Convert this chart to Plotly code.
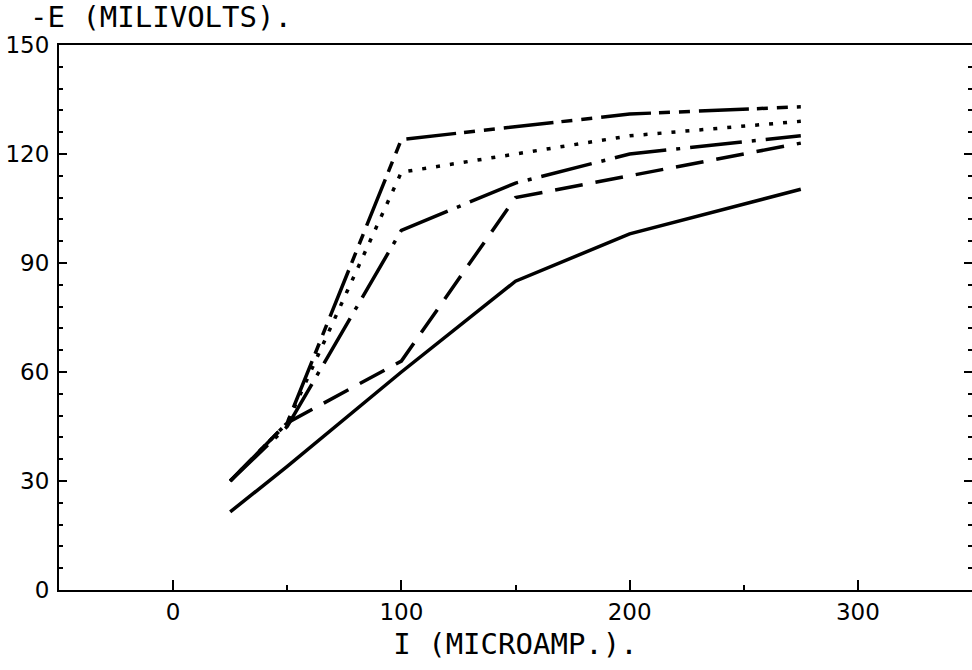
import plotly.graph_objects as go

# Data
current = [25, 50, 100, 150, 200, 275]
series_a = [30, 46, 124, 127.5, 131, 133]      # long-short-short dash (top)
series_b = [30, 46, 115, 120, 125, 129]        # dotted
series_c = [30, 45, 99, 112, 120, 125]         # dash-dot
series_d = [30, 46, 63, 108, 114, 123]         # dashed
series_e = [21.5, 34, 60, 85, 98, 110.3]       # solid

x_ticks = [0, 100, 200, 300]
y_ticks = [0, 30, 60, 90, 120, 150]

styles = [
    (series_a, "50px,8px,11px,9px,11px,9px"),
    (series_b, "4px,10px"),
    (series_c, "52px,10px,4px,10px"),
    (series_d, "28px,13px"),
    (series_e, "solid"),
]

fig = go.Figure()
for ys, dash in styles:
    fig.add_trace(go.Scatter(
        x=current, y=ys, mode="lines",
        line=dict(color="black", width=3.5, dash=dash),
        showlegend=False, hoverinfo="skip",
    ))

# right-side inward ticks (no visible line)
fig.add_trace(go.Scatter(x=[None], y=[None], yaxis="y2", showlegend=False))

tickfont = dict(family="DejaVu Sans", size=23, color="black")
fig.update_layout(
    width=972, height=670,
    margin=dict(l=59, r=0, t=45, b=80),
    paper_bgcolor="white", plot_bgcolor="white",
    xaxis=dict(
        range=[-50, 350], showgrid=False, zeroline=False,
        showline=True, linecolor="black", linewidth=2, mirror=True,
        ticks="inside", tickvals=x_ticks, ticktext=[str(v) for v in x_ticks],
        ticklen=10, tickwidth=2, tickcolor="black",
        minor=dict(tickvals=[50, 150, 250], ticks="inside", ticklen=5, tickwidth=2, tickcolor="black"),
        tickfont=tickfont, ticklabelstandoff=0,
        title=dict(text="I (MICROAMP.).", font=dict(family="DejaVu Sans Mono", size=29, color="black"), standoff=10),
    ),
    yaxis=dict(
        range=[0, 150], showgrid=False, zeroline=False,
        showline=True, linecolor="black", linewidth=2, mirror=False,
        ticks="inside", tickvals=y_ticks, ticktext=[str(v) for v in y_ticks],
        ticklen=8, tickwidth=2, tickcolor="black",
        minor=dict(dtick=6, tick0=0, ticks="inside", ticklen=4, tickwidth=2, tickcolor="black"),
        tickfont=tickfont, ticklabelstandoff=3,
    ),
    yaxis2=dict(
        range=[0, 150], overlaying="y", side="right", showgrid=False, zeroline=False,
        showline=False, ticks="inside", tickvals=y_ticks, ticklen=8, tickwidth=2, tickcolor="black",
        minor=dict(dtick=6, tick0=0, ticks="inside", ticklen=4, tickwidth=2, tickcolor="black"),
        showticklabels=False,
    ),
    annotations=[dict(
        text="-E (MILIVOLTS).", xref="paper", yref="paper", x=-0.034, y=1.0,
        xanchor="left", yanchor="bottom", showarrow=False, yshift=9,
        font=dict(family="DejaVu Sans Mono", size=29, color="black"),
    )],
)

fig.write_html("out.html")
